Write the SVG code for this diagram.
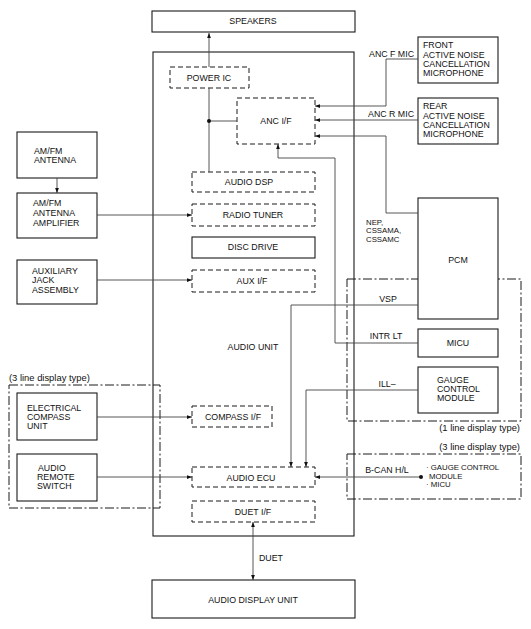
<svg xmlns="http://www.w3.org/2000/svg" width="531" height="629" viewBox="0 0 531 629">
<style>
text{font-family:"Liberation Sans",Arial,sans-serif;font-size:8.8px;fill:#111}
.c{text-anchor:middle}
.e{text-anchor:end}
.p{font-size:9.4px}
.s{font-size:7.8px}
.box{fill:#fff;stroke:#1a1a1a;stroke-width:1.1}
.frame{fill:none;stroke:#1a1a1a;stroke-width:1.1}
.dbox{fill:#fff;stroke:#1a1a1a;stroke-width:1;stroke-dasharray:5,3}
.grp{fill:none;stroke:#1a1a1a;stroke-width:1;stroke-dasharray:9,2.5,2,2.5}
.ln{fill:none;stroke:#444;stroke-width:0.9}
</style>
<defs>
<marker id="ah" viewBox="0 0 8 6" refX="8" refY="3" markerWidth="5" markerHeight="4" markerUnits="userSpaceOnUse" orient="auto-start-reverse">
<path d="M0,0 L8,3 L0,6 Z" fill="#111"/>
</marker>
</defs>

<g id="group-1line"><rect class="grp" x="347" y="279" width="174" height="142"/><text class="e p" x="520" y="431">(1 line display type)</text></g>
<g id="group-3line-left"><rect class="grp" x="9" y="385" width="151" height="123"/><text class="p" x="9" y="381">(3 line display type)</text></g>
<g id="group-3line-right"><rect class="grp" x="347" y="454" width="174" height="45"/><text class="e p" x="520" y="450">(3 line display type)</text></g>

<g id="speakers"><rect class="box" x="152" y="11" width="203" height="21"/><text class="c" x="253" y="24">SPEAKERS</text></g>
<g id="audio-unit"><rect class="frame" x="153" y="52" width="201" height="484"/><text class="c" x="253" y="350">AUDIO UNIT</text></g>
<g id="power-ic"><rect class="dbox" x="170" y="67" width="79" height="21"/><text class="c" x="209" y="81">POWER IC</text></g>
<g id="anc-if"><rect class="dbox" x="237" y="98" width="78" height="46"/><text class="c" x="276" y="124">ANC I/F</text></g>
<g id="audio-dsp"><rect class="dbox" x="192" y="172" width="123" height="20"/><text class="c" x="249" y="185">AUDIO DSP</text></g>
<g id="radio-tuner"><rect class="dbox" x="192" y="204" width="123" height="22"/><text class="c" x="253" y="218">RADIO TUNER</text></g>
<g id="disc-drive"><rect class="box" x="192" y="237" width="123" height="21"/><text class="c" x="253" y="250">DISC DRIVE</text></g>
<g id="aux-if"><rect class="dbox" x="192" y="270" width="123" height="22"/><text class="c" x="252" y="284">AUX I/F</text></g>
<g id="compass-if"><rect class="dbox" x="192" y="406" width="80" height="21"/><text class="c" x="233" y="420">COMPASS I/F</text></g>
<g id="audio-ecu"><rect class="dbox" x="192" y="467" width="123" height="20"/><text class="c" x="251" y="481">AUDIO ECU</text></g>
<g id="duet-if"><rect class="dbox" x="192" y="501" width="123" height="21"/><text class="c" x="253" y="515">DUET I/F</text></g>
<g id="audio-display-unit"><rect class="box" x="152" y="580" width="203" height="38"/><text class="c" x="253" y="603">AUDIO DISPLAY UNIT</text></g>

<g id="front-mic"><rect class="box" x="418" y="37" width="80" height="46"/><text x="423" y="48">FRONT</text><text x="423" y="58">ACTIVE NOISE</text><text x="423" y="67">CANCELLATION</text><text x="423" y="76">MICROPHONE</text></g>
<g id="rear-mic"><rect class="box" x="418" y="98" width="80" height="46"/><text x="423" y="109">REAR</text><text x="423" y="119">ACTIVE NOISE</text><text x="423" y="128">CANCELLATION</text><text x="423" y="137">MICROPHONE</text></g>
<g id="pcm"><rect class="box" x="418" y="198" width="80" height="121"/><text class="c" x="458" y="263">PCM</text></g>
<g id="micu"><rect class="box" x="418" y="329" width="80" height="28"/><text class="c" x="458" y="346">MICU</text></g>
<g id="gauge-control-module"><rect class="box" x="418" y="367" width="80" height="46"/><text x="437" y="383">GAUGE</text><text x="437" y="392">CONTROL</text><text x="437" y="401">MODULE</text></g>
<g id="bcan-targets"><text class="s" x="426" y="470">· GAUGE CONTROL</text><text class="s" x="429" y="478.7">MODULE</text><text class="s" x="426" y="487.4">· MICU</text></g>

<g id="am-fm-antenna"><rect class="box" x="17" y="132" width="80" height="46"/><text x="34" y="154">AM/FM</text><text x="34" y="163">ANTENNA</text></g>
<g id="antenna-amplifier"><rect class="box" x="17" y="193" width="80" height="45"/><text x="33" y="206">AM/FM</text><text x="33" y="216">ANTENNA</text><text x="33" y="226">AMPLIFIER</text></g>
<g id="aux-jack"><rect class="box" x="17" y="260" width="80" height="44"/><text x="32" y="274">AUXILIARY</text><text x="32" y="283">JACK</text><text x="32" y="293">ASSEMBLY</text></g>
<g id="compass-unit"><rect class="box" x="17" y="393" width="80" height="47"/><text x="27" y="411">ELECTRICAL</text><text x="27" y="420">COMPASS</text><text x="27" y="429">UNIT</text></g>
<g id="remote-switch"><rect class="box" x="17" y="454" width="80" height="47"/><text x="38" y="471">AUDIO</text><text x="37" y="480">REMOTE</text><text x="37" y="489">SWITCH</text></g>

<g id="connectors">
<path class="ln" d="M209,67 V33" marker-end="url(#ah)"/>
<path class="ln" d="M209,172 V88"/>
<path class="ln" d="M209,121 H237"/>
<circle cx="209" cy="121" r="2" fill="#111"/>
<path class="ln" d="M418,59 H386 V106 H315" marker-end="url(#ah)"/>
<path class="ln" d="M418,120 H315" marker-end="url(#ah)"/>
<path class="ln" d="M418,213 H386 V136 H315" marker-end="url(#ah)"/>
<path class="ln" d="M418,343 H335 V158 H278 V144" marker-end="url(#ah)"/>
<path class="ln" d="M57,178 V193" marker-end="url(#ah)"/>
<path class="ln" d="M97,215 H192" marker-end="url(#ah)"/>
<path class="ln" d="M97,280 H192" marker-end="url(#ah)"/>
<path class="ln" d="M97,417 H192" marker-end="url(#ah)"/>
<path class="ln" d="M97,477 H192" marker-end="url(#ah)"/>
<path class="ln" d="M418,305 H291 V467" marker-end="url(#ah)"/>
<path class="ln" d="M418,390 H306 V467" marker-end="url(#ah)"/>
<path class="ln" d="M421,477 H315" marker-end="url(#ah)"/>
<circle cx="421" cy="477" r="2" fill="#111"/>
<path class="ln" d="M253,522 V580" marker-start="url(#ah)" marker-end="url(#ah)"/>
<text class="e" x="414" y="57">ANC F MIC</text>
<text class="e" x="414" y="117">ANC R MIC</text>
<text class="s" x="366" y="224.5">NEP,</text>
<text class="s" x="366" y="233.2">CSSAMA,</text>
<text class="s" x="366" y="241.9">CSSAMC</text>
<text class="c" x="388" y="302">VSP</text>
<text class="c" x="386" y="339">INTR LT</text>
<text class="c" x="387" y="387">ILL–</text>
<text class="c" x="387" y="473">B-CAN H/L</text>
<text x="259" y="561">DUET</text>
</g>
</svg>
